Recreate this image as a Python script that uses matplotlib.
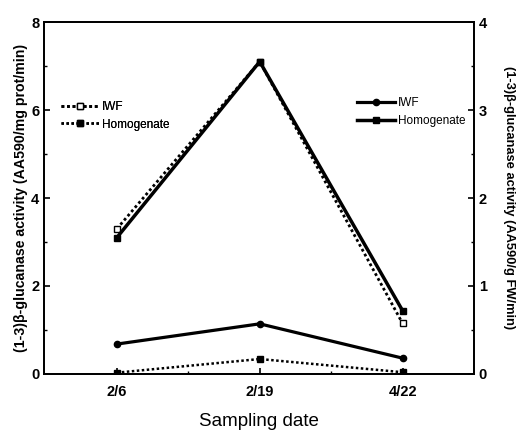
import matplotlib
matplotlib.use("Agg")
import matplotlib.pyplot as plt
from matplotlib.ticker import MultipleLocator, FixedLocator

dates = ["2/6", "2/19", "4/22"]
# left axis (per mg protein)
iwf_left = [3.3, 7.1, 1.15]
hom_left = [0.03, 0.34, 0.04]
# right axis (per g FW)
iwf_right = [0.34, 0.57, 0.18]
hom_right = [1.55, 3.55, 0.72]

plt.rcParams['font.family'] = ['Liberation Sans', 'DejaVu Sans']

fig = plt.figure(figsize=(5.16, 4.32), dpi=100)
ax = fig.add_axes([0.0853, 0.1343, 0.8333, 0.8147])
ax2 = ax.twinx()

x = list(range(1, len(dates) + 1))

l1, = ax.plot(x, iwf_left, linestyle=(0, (1, 1)), color='black', lw=2.0,
              marker='s', ms=4.5, mfc='white', mec='black', mew=1.0)
l2, = ax.plot(x, hom_left, linestyle=(0, (1, 1)), color='black', lw=1.8,
              marker='s', ms=4.5, mfc='black', mec='black')
r1, = ax2.plot(x, iwf_right, linestyle='-', color='black', lw=2.3,
               marker='o', ms=4.5, mfc='black', mec='black')
r2, = ax2.plot(x, hom_right, linestyle='-', color='black', lw=2.5,
               marker='s', ms=4.5, mfc='black', mec='black')

ax.set_xlim(0.49, 3.5)
ax.set_ylim(0, 8)
ax2.set_ylim(0, 4)
ax.set_xticks(x)
ax.set_xticklabels(dates)
ax.xaxis.set_minor_locator(FixedLocator([1.5, 2.5]))
ax.yaxis.set_major_locator(MultipleLocator(2))
ax.yaxis.set_minor_locator(MultipleLocator(1))
ax2.yaxis.set_major_locator(MultipleLocator(1))
ax2.yaxis.set_minor_locator(MultipleLocator(0.5))

for a in (ax, ax2):
    a.tick_params(which='major', direction='in', length=4, width=1.2, labelsize=10.5)
    a.tick_params(which='minor', direction='in', length=2, width=1.0)
    for s in a.spines.values():
        s.set_linewidth(1.3)
ax.tick_params(axis='x', pad=8)
for lab in ax.get_xticklabels() + ax.get_yticklabels() + ax2.get_yticklabels():
    lab.set_fontweight('bold')

ax.set_ylabel("(1-3)\u03b2-glucanase activity (AA590/mg prot/min)",
              fontsize=10.2, fontweight='bold', labelpad=2)
ax2.set_ylabel("(1-3)\u03b2-glucanase activity (AA590/g FW/min)",
               fontsize=9.3, fontweight='bold', rotation=-90, labelpad=20)
ax.set_xlabel("Sampling date", fontsize=13.5, labelpad=10)

leg1 = ax.legend([l1, l2], ["IWF", "Homogenate"], loc='upper left',
                 bbox_to_anchor=(0.02, 0.80), frameon=False, fontsize=8.5,
                 handlelength=3.2, handletextpad=0.3, borderpad=0.2, labelspacing=0.5)
ax.add_artist(leg1)
ax2.legend([r1, r2], ["IWF", "Homogenate"], loc='upper right',
           bbox_to_anchor=(1.0, 0.81), frameon=False, fontsize=8.5,
           handlelength=3.2, handletextpad=0.3, borderpad=0.2, labelspacing=0.5)

fig.savefig("out.png", dpi=100)
